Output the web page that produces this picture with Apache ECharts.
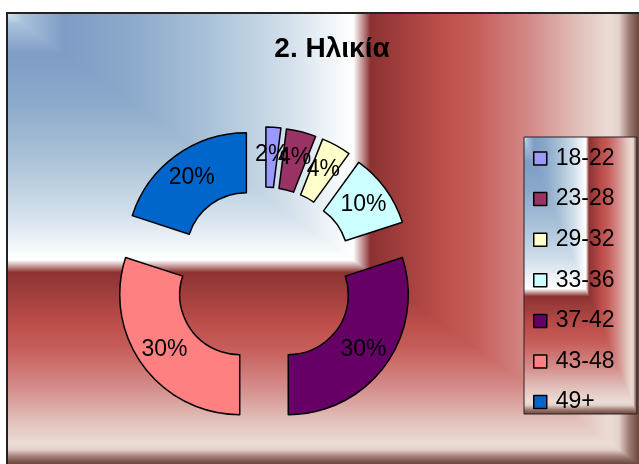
<!DOCTYPE html>
<html>
<head>
<meta charset="utf-8">
<script src="https://cdn.jsdelivr.net/npm/echarts@6/dist/echarts.min.js"></script>
<style>
  html, body { margin: 0; padding: 0; background: #fff; }
  #chart { width: 639px; height: 464px; }
</style>
</head>
<body>
<div id="chart"></div>
<script>
// data
const ageGroups = ['18-22', '23-28', '29-32', '33-36', '37-42', '43-48', '49+'];
const agePercents = [2, 4, 4, 10, 30, 30, 20];
const sliceColors = ['#9999FF', '#993366', '#FFFFCC', '#CCFFFF', '#660066', '#FF8080', '#0066CC'];

// rectangular "from corner" fill, same stops along x and y
const fillStops = [
  { offset: 0.0, color: '#D4E4F0' },
  { offset: 0.025, color: '#A8C2DC' },
  { offset: 0.09, color: '#7F9CC6' },
  { offset: 0.2, color: '#8CAACB' },
  { offset: 0.32, color: '#AAC2D8' },
  { offset: 0.44, color: '#D0DEEA' },
  { offset: 0.535, color: '#FAFCFD' },
  { offset: 0.548, color: '#FFFFFF' },
  { offset: 0.575, color: '#8C3232' },
  { offset: 0.69, color: '#BD4F4C' },
  { offset: 0.74, color: '#C55C58' },
  { offset: 0.83, color: '#D48C8A' },
  { offset: 0.91, color: '#E2C4BE' },
  { offset: 0.955, color: '#ECDCD6' },
  { offset: 0.968, color: '#E4D2CC' },
  { offset: 0.985, color: '#9C7870' },
  { offset: 1.0, color: '#6A4640' }
];

// full rect with the vertical ramp, then the upper-right triangle with the horizontal one
function cornerFill(x0, y0, x1, y1, z) {
  return [
    {
      type: 'rect', z: z, silent: true,
      shape: { x: x0, y: y0, width: x1 - x0, height: y1 - y0 },
      style: { fill: { type: 'linear', x: 0, y: 0, x2: 0, y2: 1, colorStops: fillStops } }
    },
    {
      type: 'polygon', z: z, silent: true,
      shape: { points: [[x0, y0], [x1, y0], [x1, y1]] },
      style: { fill: { type: 'linear', x: 0, y: 0, x2: 1, y2: 0, colorStops: fillStops } }
    }
  ];
}

const chart = echarts.init(document.getElementById('chart'));

const seriesData = ageGroups.map(function (name, i) {
  return {
    name: name,
    value: agePercents[i],
    selected: true,
    itemStyle: { color: sliceColors[i] }
  };
});

chart.setOption({
  animation: false,
  graphic: [].concat(
    cornerFill(7, 13, 639, 464, 0),
    [{
      type: 'rect', z: 0, silent: true,
      shape: { x: 7, y: 13, width: 640, height: 460 },
      style: { fill: 'none', stroke: '#222', lineWidth: 2 }
    }],
    cornerFill(524, 137, 637, 414, 1),
    [{
      type: 'rect', z: 1, silent: true,
      shape: { x: 524, y: 137, width: 113, height: 277 },
      style: { fill: 'none', stroke: '#2a2020', lineWidth: 1 }
    }]
  ),
  title: {
    text: '2. Ηλικία',
    left: 332,
    top: 35,
    padding: 0,
    textAlign: 'center',
    textStyle: {
      fontFamily: 'Liberation Sans, Arial',
      fontSize: 28,
      fontWeight: 'bold',
      color: '#000'
    }
  },
  legend: {
    orient: 'vertical',
    left: 533,
    top: 147,
    padding: 0,
    itemWidth: 13,
    itemHeight: 13,
    itemGap: 17.6,
    icon: 'rect',
    data: ageGroups,
    itemStyle: { borderColor: '#000', borderWidth: 1.5 },
    textStyle: {
      fontFamily: 'Liberation Sans, Arial',
      fontSize: 23,
      lineHeight: 22,
      color: '#000',
      padding: [0, 0, 0, 4]
    }
  },
  series: [{
    type: 'pie',
    center: [264, 277],
    radius: [60, 120],
    startAngle: 90,
    clockwise: true,
    selectedMode: 'multiple',
    selectedOffset: 30,
    itemStyle: { borderColor: '#000', borderWidth: 1.5 },
    emphasis: { scale: false },
    label: {
      show: true,
      position: 'inside',
      formatter: '{c}%',
      fontFamily: 'Liberation Sans, Arial',
      fontSize: 23,
      color: '#000'
    },
    labelLayout: { hideOverlap: false },
    labelLine: { show: false },
    data: seriesData
  }]
});
</script>
</body>
</html>
